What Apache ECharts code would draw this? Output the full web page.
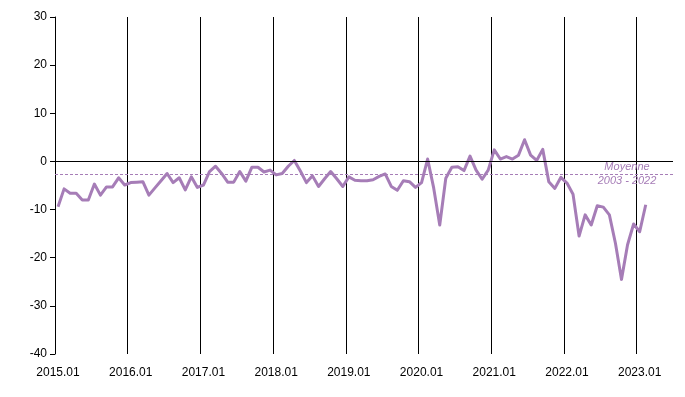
<!DOCTYPE html>
<html>
<head>
<meta charset="utf-8">
<script src="https://cdn.jsdelivr.net/npm/echarts@6/dist/echarts.min.js"></script>
<style>
  html, body { margin: 0; padding: 0; background: #fff; }
  #main { width: 685px; height: 397px; }
</style>
</head>
<body>
<div id="main"></div>
<script>
// monthly values, 2015.01 -> 2023.02
var values = [
  -9.4, -5.7, -6.6, -6.6, -8.0, -8.0, -4.7, -7.0, -5.3, -5.3, -3.4, -4.9,
  -4.4, -4.3, -4.2, -7.0, -5.5, -4.0, -2.5, -4.4, -3.4, -5.9, -3.2, -5.4,
  -4.9, -2.1, -1.0, -2.5, -4.3, -4.3, -2.1, -4.1, -1.2, -1.2, -2.2, -1.8,
  -2.8, -2.5, -1.0, 0.2, -2.0, -4.4, -3.0, -5.2, -3.6, -2.1, -3.6, -5.2,
  -3.2, -3.9, -4.0, -4.0, -3.8, -3.1, -2.6, -5.2, -6.0, -4.0, -4.2, -5.4,
  -4.4, 0.5, -5.5, -13.2, -3.5, -1.2, -1.1, -1.9, 1.1, -1.8, -3.7, -1.8,
  2.4, 0.5, 1.0, 0.5, 1.3, 4.5, 1.3, 0.2, 2.5, -4.2, -5.6, -3.3,
  -4.5, -6.8, -15.5, -11.1, -13.2, -9.2, -9.5, -11.1, -17.0, -24.5, -17.3, -13.0,
  -14.6, -9.0
]
var average = -2.7
var averageLabel = 'Moyenne\n2003 - 2022'
var yTicks = { min: -40, max: 30, interval: 10 }

// axis runs 2015.01 -> 2023.06
var months = []
for (var y = 2015; y <= 2023; y++) {
  for (var m = 1; m <= 12; m++) {
    if (y === 2023 && m > 6) break
    months.push(y + '.' + (m < 10 ? '0' + m : m))
  }
}

var lineColor = '#a67db7'
var font = 'Liberation Sans, Arial, sans-serif'
var isYear = function (idx) { return idx % 12 === 0 }

var chart = echarts.init(document.getElementById('main'))
var option = {
  animation: false,
  grid: { left: 55, right: 12, top: 17, bottom: 43 },
  xAxis: {
    type: 'category',
    data: months,
    boundaryGap: true,
    axisLine: { show: false },
    axisTick: { show: false },
    axisLabel: {
      interval: isYear,
      margin: 13,
      color: '#000',
      fontSize: 12,
      fontFamily: font
    },
    splitLine: {
      show: true,
      interval: isYear,
      showMaxLine: false,
      lineStyle: { color: '#000', width: 1 }
    }
  },
  yAxis: {
    type: 'value',
    min: yTicks.min,
    max: yTicks.max,
    interval: yTicks.interval,
    axisLine: { show: true, lineStyle: { color: '#000', width: 1 } },
    axisTick: { show: true, length: 5, lineStyle: { color: '#000' } },
    axisLabel: { color: '#000', fontSize: 12, fontFamily: font, margin: 8 },
    splitLine: { show: false }
  },
  series: [
    {
      type: 'line',
      data: values,
      symbol: 'none',
      smooth: false,
      lineStyle: { color: lineColor, width: 3, join: 'round' },
      markLine: {
        silent: true,
        symbol: 'none',
        animation: false,
        data: [
          {
            yAxis: 0,
            lineStyle: { color: '#000', width: 1, type: 'solid' },
            label: { show: false }
          },
          {
            yAxis: average,
            lineStyle: { color: lineColor, width: 1, type: [3, 2] },
            label: {
              show: true,
              formatter: averageLabel,
              position: 'insideEnd',
              distance: 46,
              align: 'center',
              verticalAlign: 'middle',
              color: lineColor,
              fontStyle: 'italic',
              fontSize: 11,
              lineHeight: 14,
              fontFamily: 'Liberation Sans Narrow, Arial Narrow, Liberation Sans, sans-serif'
            }
          }
        ]
      }
    }
  ]
}
option && chart.setOption(option)
</script>
</body>
</html>
